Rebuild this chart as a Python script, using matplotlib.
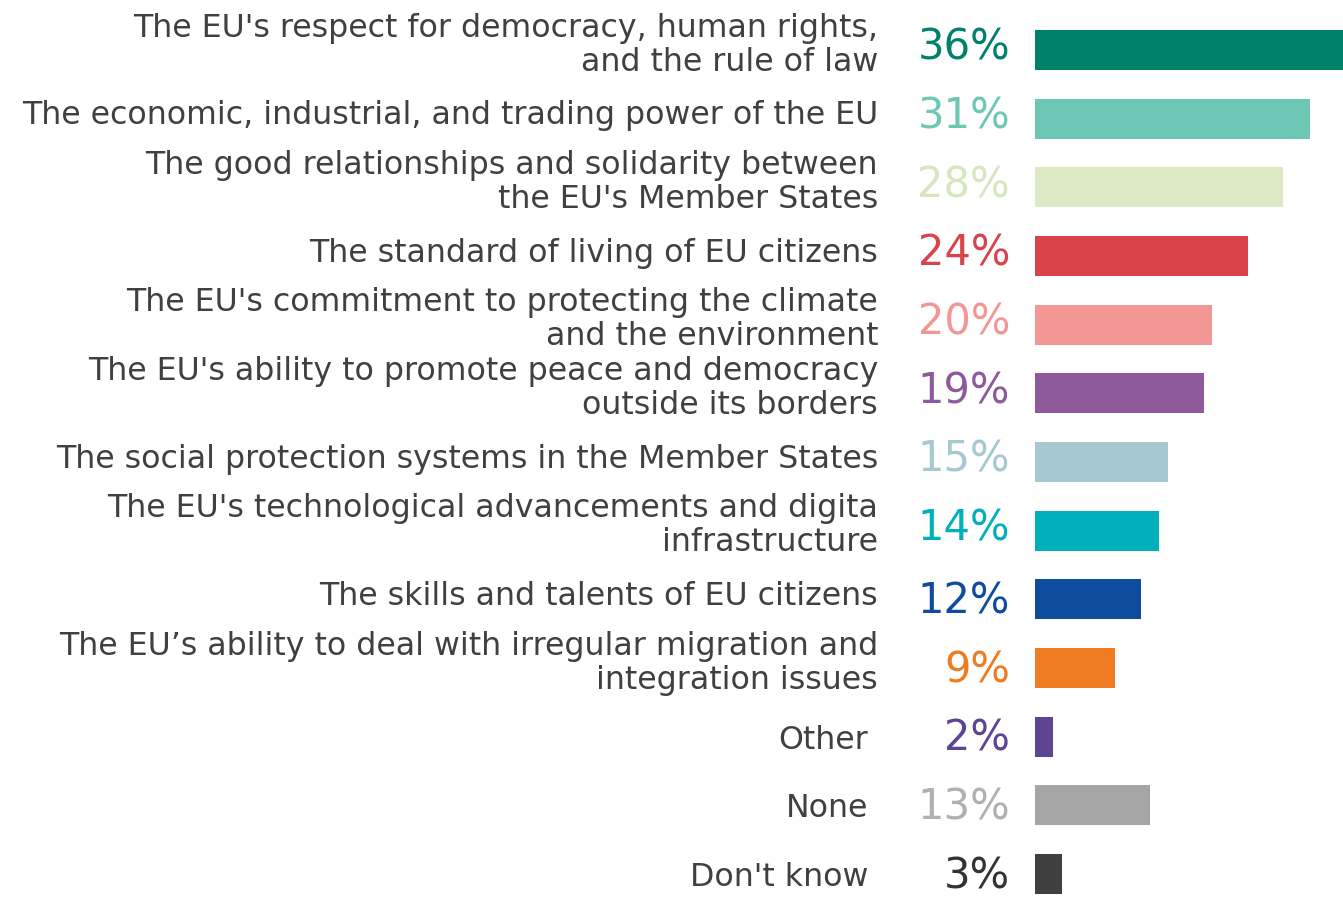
import matplotlib
matplotlib.use("Agg")
import matplotlib.pyplot as plt
from matplotlib.transforms import blended_transform_factory

categories = [
    "The EU's respect for democracy, human rights,\nand the rule of law",
    "The economic, industrial, and trading power of the EU",
    "The good relationships and solidarity between\nthe EU's Member States",
    "The standard of living of EU citizens",
    "The EU's commitment to protecting the climate\nand the environment",
    "The EU's ability to promote peace and democracy\noutside its borders",
    "The social protection systems in the Member States",
    "The EU's technological advancements and digita\ninfrastructure",
    "The skills and talents of EU citizens",
    "The EU\u2019s ability to deal with irregular migration and\nintegration issues",
    "Other",
    "None",
    "Don't know",
]
values = [36, 31, 28, 24, 20, 19, 15, 14, 12, 9, 2, 13, 3]
bar_colors = ["#00816A", "#6CC7B5", "#DCE9C4", "#D9444B", "#F39795", "#8E5A9B",
              "#A6C8D0", "#00B0BA", "#0F4C9E", "#F07C22", "#5E4593", "#A5A5A5", "#404040"]
label_colors = ["#00816A", "#6CC7B5", "#D6E6BF", "#D9444B", "#F39795", "#8E5A9B",
                "#A6C8D0", "#00B0BA", "#0F4C9E", "#F07C22", "#5E4593", "#B0B0B0", "#333333"]

W, H = 1343, 899
fig = plt.figure(figsize=(W / 100, H / 100), dpi=100)
ax = fig.add_axes([1035 / W, 0, 1 - 1035 / W, 1])

ys = list(range(len(values)))
ax.barh(ys, values, height=0.58, color=bar_colors)
ax.set_xlim(0, (1343 - 1035) / 8.87)
ax.set_ylim((899 - 50) / 68.67, -50 / 68.67)
ax.axis("off")

tr = blended_transform_factory(fig.transFigure, ax.transData)
font = "DejaVu Sans"
short = ("Other", "None", "Don't know")
for y, cat, v, lc in zip(ys, categories, values, label_colors):
    if cat in short:
        off, xpos = 0.05, 868 / W
    else:
        off, xpos = (-0.07 if "\n" in cat else -0.04), 878 / W
    ax.text(xpos, y + off, cat, transform=tr, ha="right", va="center",
            fontsize=22.8, color="#404040", family=font, linespacing=1.12)
    ax.text(1010 / W, y + (0.03 if y >= 8 else -0.03), f"{v}%", transform=tr,
            ha="right", va="center", fontsize=30, color=lc, family=font)

fig.savefig("out.png", dpi=100)
